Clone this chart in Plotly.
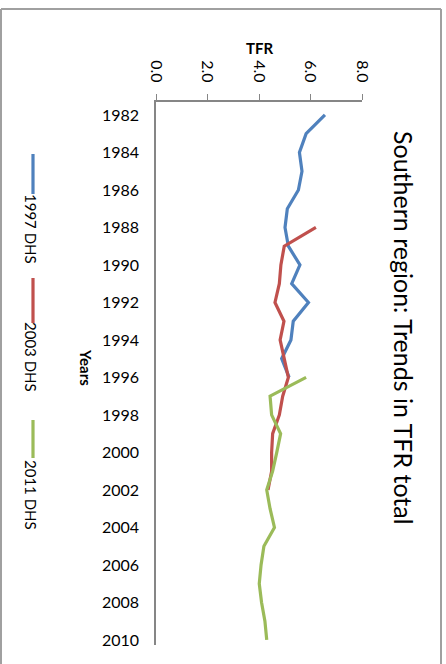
import plotly.graph_objects as go

# Total fertility rate by year, as reported in each DHS round (Southern region)
years_1997 = list(range(1982, 1997))
tfr_1997 = [6.56, 5.83, 5.57, 5.67, 5.53, 5.10, 5.01, 5.14, 5.59, 5.27,
            5.92, 5.33, 5.24, 4.88, 5.17]

years_2003 = list(range(1988, 2003))
tfr_2003 = [6.21, 4.98, 4.85, 4.79, 4.62, 4.97, 4.82, 4.97, 5.14, 4.92,
            4.79, 4.53, 4.49, 4.49, 4.35]

years_2011 = list(range(1996, 2011))
tfr_2011 = [5.83, 4.43, 4.49, 4.84, 4.69, 4.53, 4.30, 4.43, 4.60, 4.19,
            4.08, 4.01, 4.10, 4.23, 4.30]

series_names = ["1997 DHS", "2003 DHS", "2011 DHS"]
series_colors = ["#4F81BD", "#C0504D", "#9BBB59"]

tfr_ticks = [0, 2, 4, 6, 8]
tfr_tick_text = ["0.0", "2.0", "4.0", "6.0", "8.0"]
year_ticks = list(range(1982, 2011, 2))

FONT = "Lato"
W, H = 446, 664
L, R, T, B = 156, 84, 102, 19

def px_x(px):
    return (px - L) / (W - L - R)

def px_y(py):
    return (H - B - py) / (H - T - B)

fig = go.Figure()
for yrs, vals, name, col in zip([years_1997, years_2003, years_2011],
                                [tfr_1997, tfr_2003, tfr_2011],
                                series_names, series_colors):
    fig.add_trace(go.Scatter(x=vals, y=yrs, mode="lines", name=name,
                             line=dict(color=col, width=3.2),
                             showlegend=False))

fig.update_xaxes(side="top", range=[0, 8], tickvals=tfr_ticks,
                 ticktext=tfr_tick_text, tickangle=90,
                 ticks="outside", ticklen=6, tickcolor="#868686",
                 tickwidth=1.3,
                 showline=True, linecolor="#868686", linewidth=1.5,
                 showgrid=False, zeroline=False, ticklabelstandoff=6,
                 tickfont=dict(family=FONT, size=16, color="#000"))
fig.update_yaxes(range=[2010.27, 1981.31], tickvals=year_ticks,
                 ticks="", showline=True, linecolor="#868686",
                 linewidth=1.5, showgrid=False, zeroline=False,
                 ticklabelstandoff=12,
                 tickfont=dict(family=FONT, size=16, color="#000"))

ann = []
# chart title, rotated
ann.append(dict(text="Southern region: Trends in TFR total", textangle=90,
                x=px_x(404), y=px_y(328), xref="paper", yref="paper",
                showarrow=False, xanchor="center", yanchor="middle",
                font=dict(family=FONT, size=25, color="#000")))
# axis titles
ann.append(dict(text="<b>TFR</b>", x=px_x(259), y=px_y(48),
                xref="paper", yref="paper", showarrow=False,
                xanchor="center", yanchor="middle",
                font=dict(family=FONT, size=15, color="#000")))
ann.append(dict(text="<b>Years</b>", textangle=90, x=px_x(86), y=px_y(367),
                xref="paper", yref="paper", showarrow=False,
                xanchor="center", yanchor="middle",
                font=dict(family=FONT, size=15, color="#000")))

# rotated legend: a short colour line followed by its label
legend_lines = [(154, 194), (278, 323), (420, 458)]
legend_text_y = [229, 357, 495]
shapes = []
for (y0, y1), ty, name, col in zip(legend_lines, legend_text_y,
                                   series_names, series_colors):
    shapes.append(dict(type="line", xref="paper", yref="paper",
                       x0=px_x(33), x1=px_x(33), y0=px_y(y0), y1=px_y(y1),
                       line=dict(color=col, width=3.2)))
    ann.append(dict(text=name, textangle=90, x=px_x(31), y=px_y(ty),
                    xref="paper", yref="paper", showarrow=False,
                    xanchor="center", yanchor="middle",
                    font=dict(family=FONT, size=15, color="#000")))

# chart border (open at the bottom)
border = dict(color="#A0A0A0", width=2)
shapes.append(dict(type="line", xref="paper", yref="paper",
                   x0=px_x(1), x1=px_x(441), y0=px_y(9), y1=px_y(9), line=border))
shapes.append(dict(type="line", xref="paper", yref="paper",
                   x0=px_x(1), x1=px_x(1), y0=px_y(9), y1=px_y(700), line=border))
shapes.append(dict(type="line", xref="paper", yref="paper",
                   x0=px_x(441), x1=px_x(441), y0=px_y(9), y1=px_y(700), line=border))

fig.update_layout(width=W, height=H, margin=dict(l=L, r=R, t=T, b=B),
                  paper_bgcolor="white", plot_bgcolor="white",
                  annotations=ann, shapes=shapes, showlegend=False)

fig.write_html("out.html")
